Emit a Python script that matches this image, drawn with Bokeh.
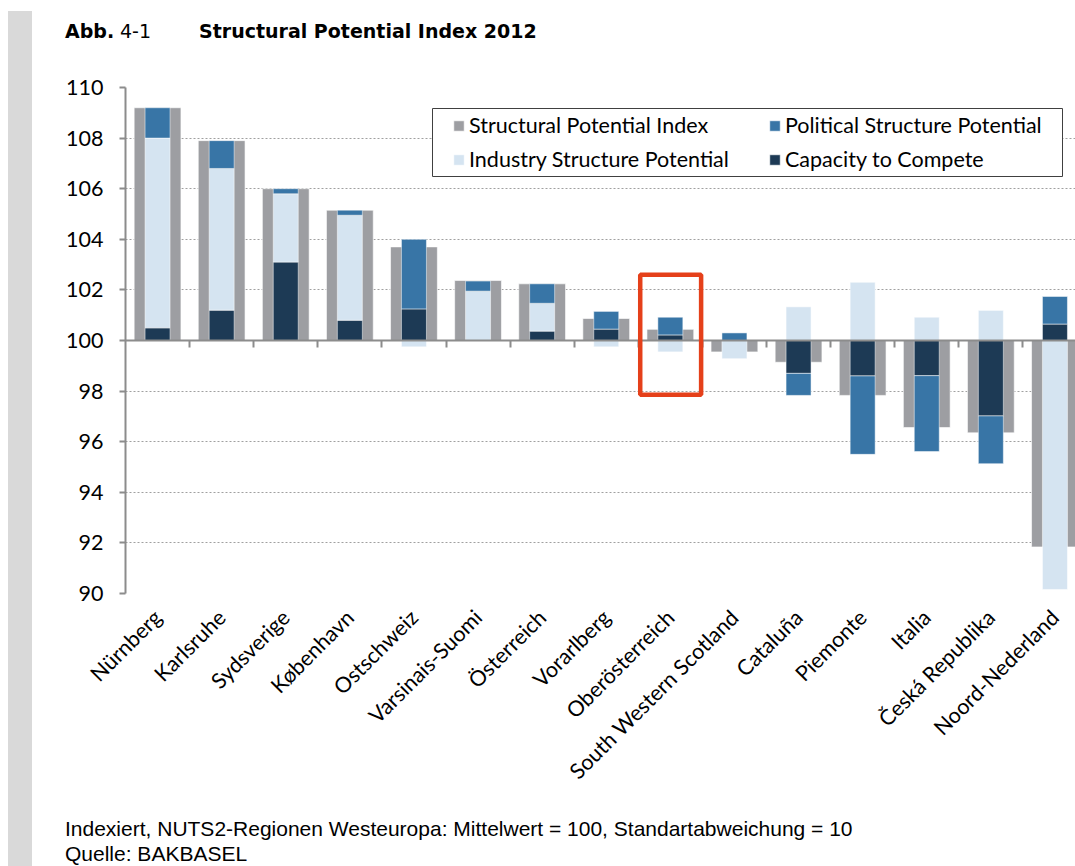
import math
from bokeh.plotting import figure
from bokeh.layouts import row, column
from bokeh.models import (ColumnDataSource, Range1d, FixedTicker, LinearAxis, Legend,
                          LegendItem, BoxAnnotation, Div, Spacer)
from bokeh.embed import file_html
from bokeh.resources import INLINE

# ---------------- data ----------------
categories = ["Nürnberg", "Karlsruhe", "Sydsverige", "København", "Ostschweiz",
              "Varsinais-Suomi", "Österreich", "Vorarlberg", "Oberösterreich",
              "South Western Scotland", "Cataluña", "Piemonte", "Italia",
              "Česká Republika", "Noord-Nederland"]
# Structural Potential Index (index value, mean = 100)
spi = [109.2, 107.9, 106.0, 105.15, 103.7, 102.37, 102.24, 100.87, 100.44,
       99.55, 99.14, 97.83, 96.56, 96.35, 91.84]
# contributions of the sub-indices (points relative to 100)
capacity = [0.5, 1.2, 3.1, 0.8, 1.25, 0.0, 0.37, 0.45, 0.22, 0.0, -1.3, -1.4, -1.39, -2.98, 0.65]
industry = [7.5, 5.6, 2.7, 4.15, -0.25, 1.95, 1.1, -0.25, -0.45, -0.72, 1.33, 2.3, 0.92, 1.19, -9.84]
political = [1.2, 1.1, 0.2, 0.2, 2.75, 0.4, 0.77, 0.7, 0.7, 0.3, -0.87, -3.1, -3.0, -1.89, 1.09]
y_ticks = list(range(90, 111, 2))
base = 100
highlight = "Oberösterreich"
highlight_low, highlight_high = 97.86, 102.60

series_names = ["Structural Potential Index", "Political Structure Potential",
                "Industry Structure Potential", "Capacity to Compete"]
title_prefix_bold = "Abb."
title_prefix_num = "4-1"
title_text = "Structural Potential Index 2012"
note_text = "Indexiert, NUTS2-Regionen Westeuropa: Mittelwert = 100, Standartabweichung = 10"
source_text = "Quelle: BAKBASEL"

C_GRAY = "#9d9ea2"
C_POL = "#3875a6"
C_IND = "#d5e4f1"
C_CAP = "#1d3a55"
C_STRIP = "#d9d9d9"

# ---------------- page layout (pixels) ----------------
W, H = 1075, 866
STRIP_L, STRIP_R, STRIP_TOP = 8, 32, 11
TITLE_H = 60           # title block: y 0..60
FOOT_H = 54            # footer block: y 812..866
FIG_W = W - STRIP_R    # figure: x 32..1075
FIG_H = H - TITLE_H - FOOT_H
F_LEFT = 125 - STRIP_R  # frame left inside figure
F_TOP = 87 - TITLE_H
F_BOTTOM = 593 - TITLE_H
X_END = (FIG_W - F_LEFT) / 64.1
Y0, Y1 = 90, 110
PX_X = (FIG_W - F_LEFT) / X_END
PX_Y = (F_BOTTOM - F_TOP) / (Y1 - Y0)


def dx(px):  # page x -> data x
    return (px - STRIP_R - F_LEFT) / PX_X


def dy(py):  # page y -> data y
    return Y1 - (py - TITLE_H - F_TOP) / PX_Y


n = len(categories)
xc = [i + 0.5 for i in range(n)]

# stacking (positive upward, negative downward from the base)
pos = [base] * n
neg = [base] * n
stacks = {}
for key, vals in (("cap", capacity), ("ind", industry), ("pol", political)):
    bot, top = [], []
    for i, v in enumerate(vals):
        if v >= 0:
            bot.append(pos[i]); top.append(pos[i] + v); pos[i] += v
        else:
            top.append(neg[i]); bot.append(neg[i] + v); neg[i] += v
    stacks[key] = ColumnDataSource(dict(x=xc, bottom=bot, top=top))

src_spi = ColumnDataSource(dict(x=xc, bottom=[base] * n, top=spi))

FONT = "Lato"
FS = "21.5px"

p = figure(width=FIG_W, height=FIG_H, output_backend="svg", toolbar_location=None,
           x_range=Range1d(0, X_END), y_range=Range1d(Y0, Y1),
           min_border_left=F_LEFT, min_border_right=0, min_border_top=F_TOP,
           min_border_bottom=FIG_H - F_BOTTOM, outline_line_color=None,
           background_fill_color="white", border_fill_color="white", margin=0)

# grid
p.xgrid.grid_line_color = None
p.ygrid.ticker = FixedTicker(ticks=y_ticks)
p.ygrid.grid_line_color = "#a0a0a0"
p.ygrid.grid_line_dash = "2 2"
p.ygrid.grid_line_width = 1

# y axis
p.yaxis.ticker = FixedTicker(ticks=y_ticks)
p.yaxis.axis_line_color = "#8c8c8c"
p.yaxis.axis_line_width = 2
p.yaxis.major_tick_line_color = "#8c8c8c"
p.yaxis.major_tick_line_width = 2
p.yaxis.major_tick_out = 6
p.yaxis.major_tick_in = 0
p.yaxis.minor_tick_line_color = None
p.yaxis.major_label_text_font = FONT
p.yaxis.major_label_text_font_size = FS
p.yaxis.major_label_text_color = "#000000"
p.yaxis.major_label_standoff = 16

# category labels axis (bottom)
p.xaxis.ticker = FixedTicker(ticks=xc)
p.xaxis.major_label_overrides = {x: c for x, c in zip(xc, categories)}
p.xaxis.major_label_orientation = math.pi / 4
p.xaxis.axis_line_color = None
p.xaxis.major_tick_line_color = None
p.xaxis.minor_tick_line_color = None
p.xaxis.major_label_text_font = FONT
p.xaxis.major_label_text_font_size = FS
p.xaxis.major_label_text_color = "#000000"
p.xaxis.major_label_standoff = 14

# bars
r_spi = p.vbar(x="x", width=0.73, bottom="bottom", top="top", source=src_spi,
               fill_color=C_GRAY, line_color="white", line_alpha=0.6, line_width=1)
r_cap = p.vbar(x="x", width=0.39, bottom="bottom", top="top", source=stacks["cap"],
               fill_color=C_CAP, line_color="white", line_alpha=0.5, line_width=1)
r_ind = p.vbar(x="x", width=0.39, bottom="bottom", top="top", source=stacks["ind"],
               fill_color=C_IND, line_color="white", line_alpha=0.5, line_width=1)
r_pol = p.vbar(x="x", width=0.39, bottom="bottom", top="top", source=stacks["pol"],
               fill_color=C_POL, line_color="white", line_alpha=0.5, line_width=1)

# category axis crossing at 100
zero_ticks = list(range(1, n))
zero_axis = LinearAxis(fixed_location=base, ticker=FixedTicker(ticks=zero_ticks),
                       major_label_overrides={t: "" for t in zero_ticks},
                       major_label_standoff=0,
                       axis_line_color="#8c8c8c", axis_line_width=2,
                       major_tick_line_color="#8c8c8c", major_tick_line_width=2,
                       major_tick_out=7, major_tick_in=0, minor_tick_line_color=None)
p.add_layout(zero_axis, "below")

# highlight box
hi = categories.index(highlight)
p.add_layout(BoxAnnotation(left=hi + 0.03, right=hi + 0.98, bottom=highlight_low,
                           top=highlight_high, fill_alpha=0, line_color="#e5401a",
                           line_alpha=1, line_width=4.5))

# legend frame + two legend columns
p.add_layout(BoxAnnotation(left=dx(432), right=dx(1062), top=dy(108), bottom=dy(176),
                           fill_color="white", fill_alpha=1, line_color="#404040",
                           line_alpha=1, line_width=1))
leg_kw = dict(border_line_color=None, background_fill_alpha=0, padding=0, spacing=6,
              glyph_width=13, glyph_height=13, label_height=28, label_standoff=4,
              label_text_font=FONT, label_text_font_size=FS,
              label_text_color="#000000", margin=0)
leg_y = 593 - 173  # bottom of legend block, measured up from frame bottom
leg_a = Legend(items=[LegendItem(label=series_names[0], renderers=[r_spi]),
                      LegendItem(label=series_names[2], renderers=[r_ind])],
               location=(452 - 125, leg_y), **leg_kw)
leg_b = Legend(items=[LegendItem(label=series_names[1], renderers=[r_pol]),
                      LegendItem(label=series_names[3], renderers=[r_cap])],
               location=(768 - 125, leg_y), **leg_kw)
p.add_layout(leg_a)
p.add_layout(leg_b)

# ---------------- title, notes, left strip ----------------
def span(text, left, top, size, bold=False, family="Noto Sans"):
    weight = "bold" if bold else "normal"
    return (f'<span style="position:absolute;left:{left}px;top:{top}px;white-space:nowrap;'
            f'font-family:\'{family}\';font-size:{size}px;line-height:{size}px;'
            f'font-weight:{weight};color:#000">{text}</span>')


title_html = ('<div style="position:relative;width:%dpx;height:%dpx">' % (FIG_W, TITLE_H)
              + span(title_prefix_bold, 65 - STRIP_R, 22, 19, True, "DejaVu Sans")
              + span(title_prefix_num, 120 - STRIP_R, 22, 19, False, "DejaVu Sans")
              + span(title_text, 199 - STRIP_R, 22, 19, True, "DejaVu Sans")
              + '</div>')
foot_html = ('<div style="position:relative;width:%dpx;height:%dpx">' % (FIG_W, FOOT_H)
             + span(note_text, 65 - STRIP_R, 5.5, 21, False, "Liberation Sans")
             + span(source_text, 65 - STRIP_R, 31, 21, False, "Liberation Sans")
             + '</div>')

title_div = Div(text=title_html, width=FIG_W, height=TITLE_H, margin=0)
foot_div = Div(text=foot_html, width=FIG_W, height=FOOT_H, margin=0)
strip = Div(text="", width=STRIP_R - STRIP_L, height=H, margin=0,
            styles={"background": f"linear-gradient(#ffffff 0px, #ffffff {STRIP_TOP}px, "
                                  f"{C_STRIP} {STRIP_TOP}px, {C_STRIP} 100%)"})
gap = Spacer(width=STRIP_L, height=H, margin=0)

layout = row(gap, strip, column(title_div, p, foot_div, spacing=0, margin=0),
             spacing=0, margin=0)

open("out.html", "w").write(file_html(layout, INLINE))
